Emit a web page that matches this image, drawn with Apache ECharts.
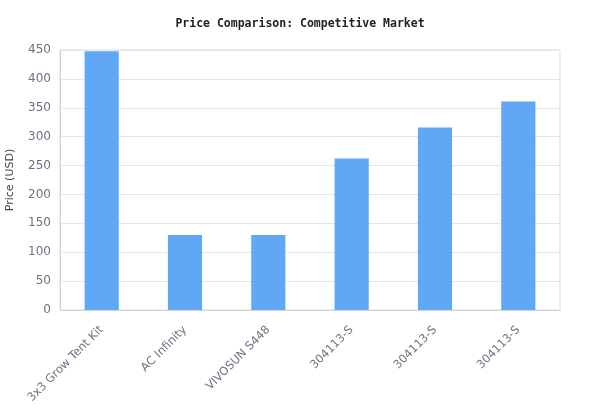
<!DOCTYPE html>
<html>
<head>
<meta charset="utf-8">
<script src="https://cdn.jsdelivr.net/npm/echarts@6/dist/echarts.min.js"></script>
<style>html,body{margin:0;padding:0;background:#fff;}#c{width:600px;height:420px;}</style>
</head>
<body>
<div id="c"></div>
<script>
var categories = ['3x3 Grow Tent Kit', 'AC Infinity', 'VIVOSUN S448', '304113-S', '304113-S', '304113-S'];
var prices = [448, 130, 130, 262, 316, 361];
var yTicks = { min: 0, max: 450, interval: 50 };

var chart = echarts.init(document.getElementById('c'), null, { renderer: 'canvas' });
chart.setOption({
  animation: false,
  backgroundColor: '#ffffff',
  title: {
    text: 'Price Comparison: Competitive Market',
    left: 'center',
    top: 13,
    textStyle: { fontFamily: 'DejaVu Sans Mono', fontWeight: 'bold', fontSize: 11.5, color: '#222' }
  },
  grid: { left: 60, right: 40, top: 50, bottom: 110, show: true, borderColor: '#dcdcdc', borderWidth: 1, containLabel: false, outerBoundsMode: 'none' },
  xAxis: {
    type: 'category',
    data: categories,
    axisLine: { show: true, lineStyle: { color: '#d4d4d4' } },
    axisTick: { show: false },
    axisLabel: { rotate: 45, color: '#6b7280', fontSize: 11.5, fontFamily: 'DejaVu Sans', interval: 0, margin: 18 }
  },
  yAxis: {
    type: 'value',
    min: yTicks.min, max: yTicks.max, interval: yTicks.interval,
    name: 'Price (USD)',
    nameLocation: 'middle',
    nameGap: 44,
    nameTextStyle: { color: '#444', fontSize: 11, fontFamily: 'DejaVu Sans' },
    axisLine: { show: true, lineStyle: { color: '#d4d4d4' } },
    axisTick: { show: false },
    axisLabel: { color: '#6b7280', fontSize: 12, fontFamily: 'DejaVu Sans', margin: 9 },
    splitLine: { show: true, lineStyle: { color: '#e5e5e5' } }
  },
  series: [{
    type: 'bar',
    data: prices,
    barWidth: '41%',
    itemStyle: { color: '#60a8f5' }
  }]
});
</script>
</body>
</html>
